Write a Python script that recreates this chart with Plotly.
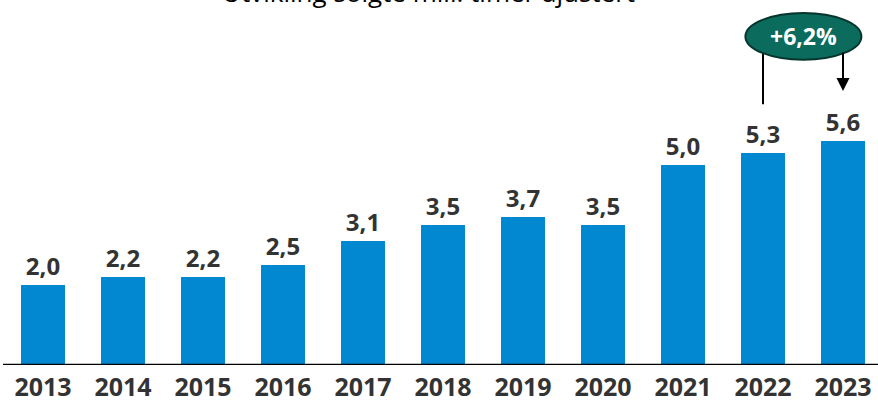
import plotly.graph_objects as go

years = ["2013", "2014", "2015", "2016", "2017", "2018", "2019", "2020", "2021", "2022", "2023"]
hours = [2.0, 2.2, 2.2, 2.5, 3.1, 3.5, 3.7, 3.5, 5.0, 5.3, 5.6]
growth_label = "+6,2%"
title_text = "Utvikling solgte mill. timer ajustert"

bar_color = "#0288D1"
text_color = "#333333"
ell_color = "#0B6B5D"

fig = go.Figure(go.Bar(
    x=list(range(len(years))), y=hours,
    marker=dict(color=bar_color, line=dict(width=0)),
    width=0.55,
    texttemplate="%{y:.1f}", textposition="outside",
    textfont=dict(family="Open Sans", size=24, color=text_color, weight="bold"),
    cliponaxis=False,
))

fig.update_layout(
    width=878, height=403,
    margin=dict(l=3, r=0, t=0, b=38, autoexpand=False),
    paper_bgcolor="white", plot_bgcolor="white",
    separators=", ",
    showlegend=False,
    font=dict(family="Open Sans"),
    xaxis=dict(
        range=[-0.5, 10.4375], tickmode="array",
        tickvals=list(range(len(years))), ticktext=years,
        tickfont=dict(family="Open Sans", size=25, color=text_color, weight="bold"),
        ticklabelstandoff=5, automargin=False,
        showgrid=False, zeroline=False, showline=False, ticks="",
    ),
    yaxis=dict(range=[0, 9.125], visible=False, showgrid=False, zeroline=False),
)

# baseline
fig.add_shape(type="line", xref="paper", yref="y", x0=0, x1=1, y0=0, y1=0,
              line=dict(color="black", width=2.5))

# growth callout
fig.add_shape(type="line", xref="x", yref="y", x0=9, x1=9, y0=6.52, y1=7.85,
              line=dict(color="black", width=2))
fig.add_annotation(x=10, y=6.85, ax=10, ay=7.85, xref="x", yref="y", axref="x", ayref="y",
                   showarrow=True, arrowhead=2, arrowsize=1.3, arrowwidth=2,
                   arrowcolor="black", text="")
fig.add_shape(type="circle", xref="x", yref="y", x0=8.78, x1=10.23, y0=7.63, y1=8.8,
              fillcolor=ell_color, line=dict(color="#06352D", width=2))
fig.add_annotation(x=9.505, y=8.22, xref="x", yref="y", text=growth_label, showarrow=False,
                   font=dict(family="Open Sans", size=23, color="white", weight="bold"))

fig.add_annotation(x=0.486, y=1, xref="paper", yref="paper", yanchor="middle", yshift=8,
                   text=title_text, showarrow=False,
                   font=dict(family="Open Sans", size=26, color="black"))

fig.write_html("out.html", config={"displayModeBar": False},
               post_script="document.body.style.margin='0';document.body.style.overflow='hidden';")
